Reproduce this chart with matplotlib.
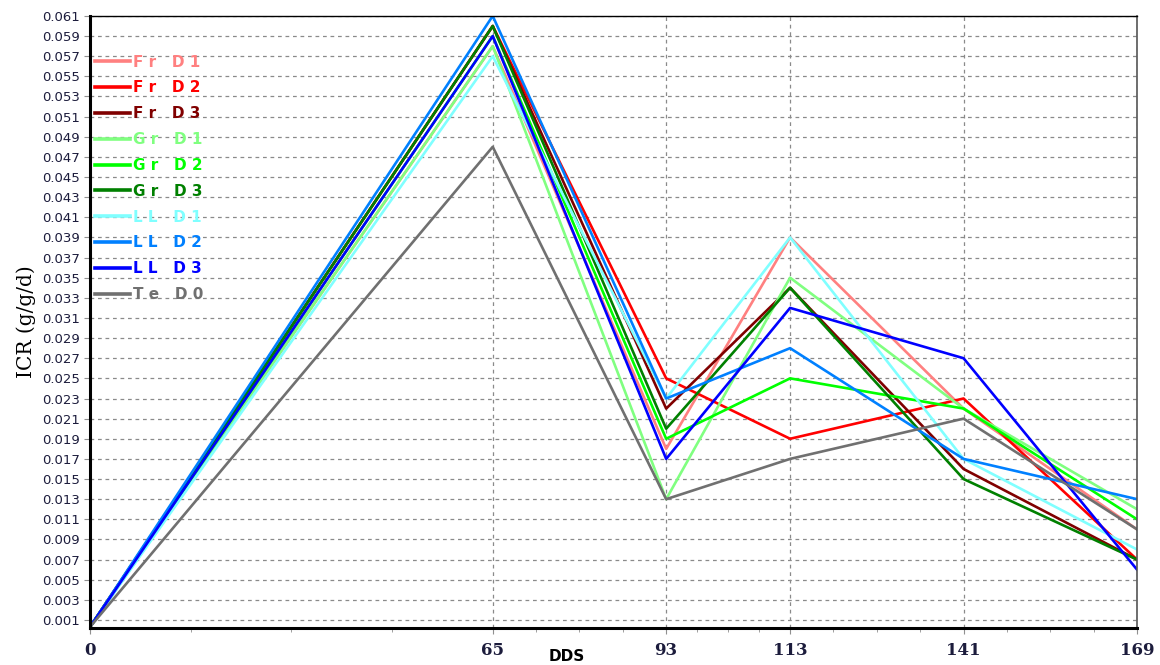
import matplotlib.pyplot as plt
from matplotlib.ticker import FixedLocator
import numpy as np

# sampling days and series values
dds = [0, 65, 93, 113, 141, 169]
names = ["Fr D1", "Fr D2", "Fr D3", "Gr D1", "Gr D2", "Gr D3",
         "LL D1", "LL D2", "LL D3", "Te D0"]
colors = ["#ff8080", "#ff0000", "#800000", "#80ff80", "#00ff00", "#008000",
          "#80ffff", "#0080ff", "#0000ff", "#707070"]

fr_d1 = [0.0003, 0.058, 0.018, 0.039, 0.022, 0.010]
fr_d2 = [0.0003, 0.060, 0.025, 0.019, 0.023, 0.007]
fr_d3 = [0.0003, 0.060, 0.022, 0.034, 0.016, 0.007]
gr_d1 = [0.0003, 0.058, 0.013, 0.035, 0.022, 0.012]
gr_d2 = [0.0003, 0.059, 0.019, 0.025, 0.022, 0.011]
gr_d3 = [0.0003, 0.060, 0.020, 0.034, 0.015, 0.007]
ll_d1 = [0.0003, 0.057, 0.023, 0.039, 0.017, 0.008]
ll_d2 = [0.0003, 0.061, 0.023, 0.028, 0.017, 0.013]
ll_d3 = [0.0003, 0.059, 0.017, 0.032, 0.027, 0.006]
te_d0 = [0.0003, 0.048, 0.013, 0.017, 0.021, 0.010]
series = [fr_d1, fr_d2, fr_d3, gr_d1, gr_d2, gr_d3, ll_d1, ll_d2, ll_d3, te_d0]

y_ticks = np.round(np.arange(0.001, 0.0615, 0.002), 3)

fig = plt.figure(figsize=(11.6, 6.65), dpi=100)
ax = fig.add_axes([0.0776, 0.0556, 0.9026, 0.9204])

for vals, name, c in zip(series, names, colors):
    # spaced-out legend text like the original
    lab = name.replace(" ", "  ")
    lab = " ".join(lab).replace("     ", "   ")
    ax.plot(dds, vals, color=c, lw=1.9, label=lab)

ax.set_xlim(0, 169)
ax.set_ylim(0.0002, 0.061)

ax.xaxis.set_major_locator(FixedLocator(dds))
minor = []
for a, b in zip(dds[:-1], dds[1:]):
    minor += [a + (b - a) * k / 4 for k in (1, 2, 3)]
ax.xaxis.set_minor_locator(FixedLocator(minor))
ax.yaxis.set_major_locator(FixedLocator(y_ticks))
ax.set_yticklabels(["%.3f" % v for v in y_ticks])

ax.grid(True, which="major", linestyle=(0, (3, 3)), color="#8a8a8a", lw=0.9)

tick_col = "#1c1c3c"
ax.tick_params(axis="y", labelsize=9.5, labelcolor=tick_col, length=4, color="#909090")
ax.tick_params(axis="x", which="major", labelsize=12, labelcolor=tick_col, length=4,
               color="#909090", pad=6)
ax.tick_params(axis="x", which="minor", length=3, color="#909090")
for lbl in ax.get_xticklabels():
    lbl.set_fontfamily("DejaVu Serif")
    lbl.set_fontweight("bold")

ax.spines["left"].set_linewidth(2.2)
ax.spines["bottom"].set_linewidth(2.2)
ax.spines["top"].set_linewidth(1.0)
ax.spines["right"].set_linewidth(1.2)
ax.spines["right"].set_color("#555555")

ax.set_xlabel("DDS", fontsize=11, fontweight="bold")
ax.xaxis.set_label_coords(0.4555, -0.035)
ax.set_ylabel("ICR (g/g/d)", fontsize=14.5, family="DejaVu Serif", labelpad=4)

leg = ax.legend(loc="upper left", bbox_to_anchor=(-0.001, 0.947), frameon=False,
                handlelength=2.3, handletextpad=0.15, labelspacing=0.71,
                borderaxespad=0.0, prop={"weight": "bold", "size": 11})
for txt, c in zip(leg.get_texts(), colors):
    txt.set_color(c)
for h in leg.get_lines():
    h.set_linewidth(2.6)

fig.savefig("out.png", dpi=100)
